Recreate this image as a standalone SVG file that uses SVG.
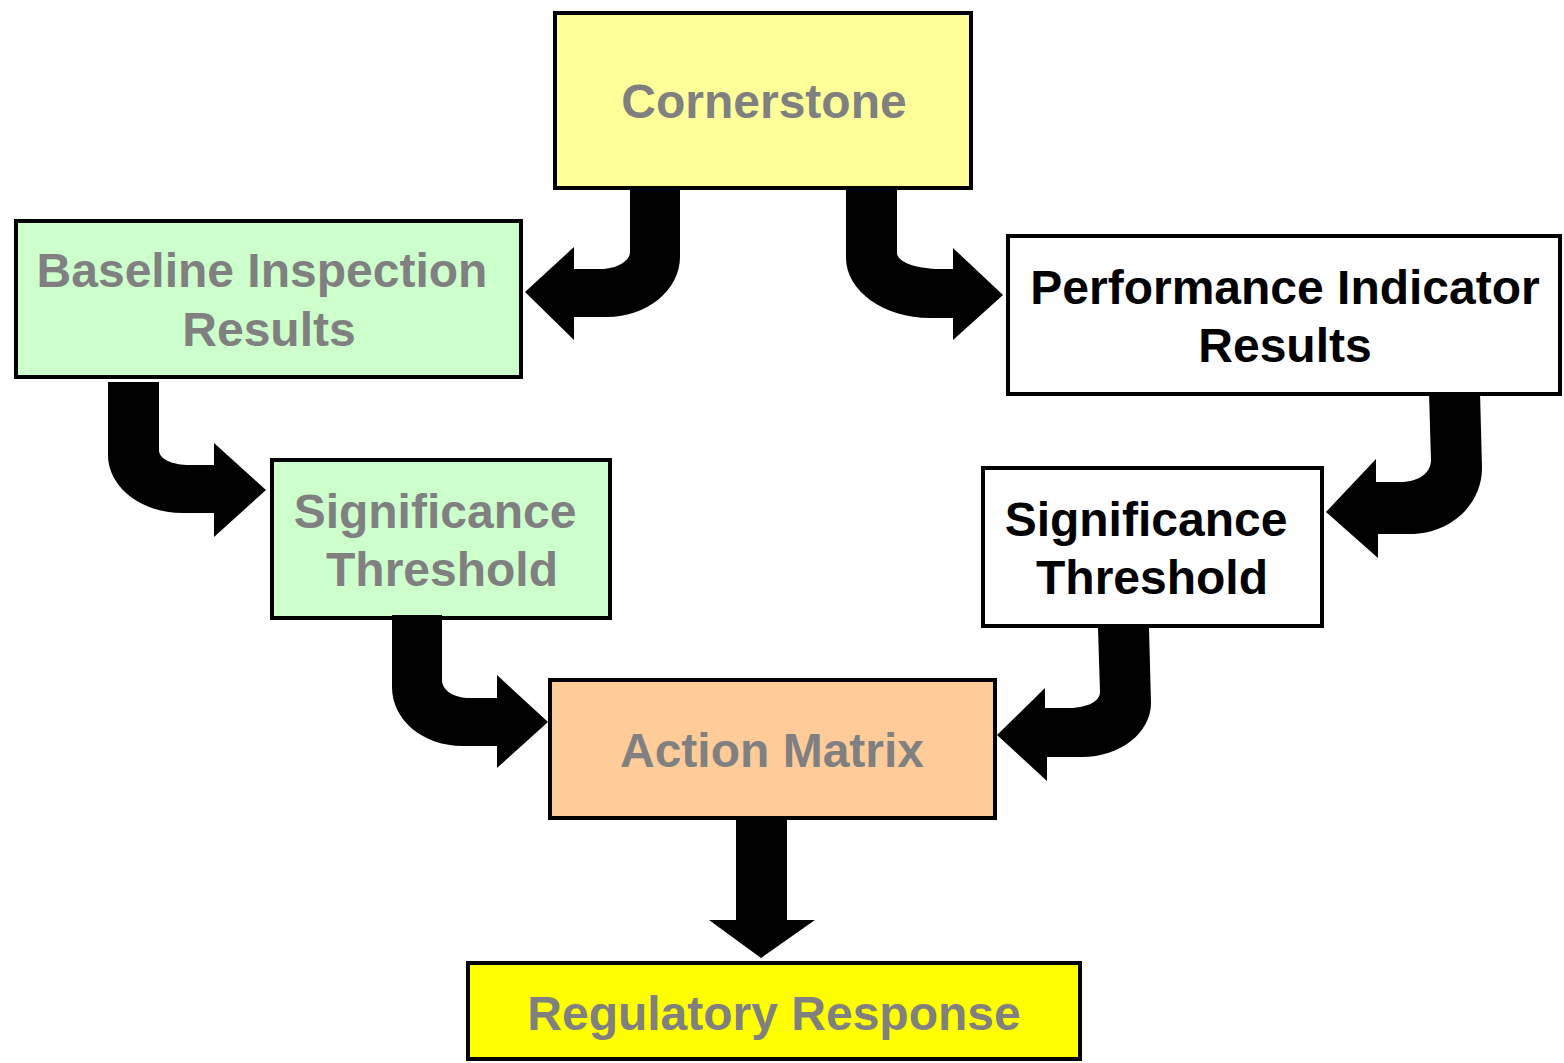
<svg xmlns="http://www.w3.org/2000/svg" width="1564" height="1063" viewBox="0 0 1564 1063">
<style>
.box{stroke:#000;stroke-width:4}
.t{font-family:"Liberation Sans",Arial,sans-serif;font-weight:bold;font-size:48px;text-anchor:middle}
.g{fill:#808080}
.k{fill:#000}
.arr{fill:#000;stroke:none}
</style>
<rect width="1564" height="1063" fill="#fff"/>
<g id="cornerstone">
<rect class="box" x="555" y="13" width="416" height="175" fill="#FFFF99"/>
<text class="t g" x="764" y="118">Cornerstone</text>
</g>
<g id="baseline">
<rect class="box" x="16" y="221" width="505" height="156" fill="#CCFFCC"/>
<text class="t g" x="262" y="287">Baseline Inspection</text>
<text class="t g" x="269" y="346">Results</text>
</g>
<g id="pi">
<rect class="box" x="1008" y="236" width="552" height="158" fill="#fff"/>
<text class="t k" x="1285" y="304">Performance Indicator</text>
<text class="t k" x="1285" y="362">Results</text>
</g>
<g id="sig-left">
<rect class="box" x="272" y="460" width="338" height="158" fill="#CCFFCC"/>
<text class="t g" x="435" y="528">Significance</text>
<text class="t g" x="442" y="586">Threshold</text>
</g>
<g id="sig-right">
<rect class="box" x="983" y="468" width="339" height="158" fill="#fff"/>
<text class="t k" x="1146" y="536">Significance</text>
<text class="t k" x="1152" y="594">Threshold</text>
</g>
<g id="action">
<rect class="box" x="550" y="680" width="445" height="138" fill="#FFCC99"/>
<text class="t g" x="772" y="767">Action Matrix</text>
</g>
<g id="regulatory">
<rect class="box" x="468" y="963" width="612" height="96" fill="#FFFF00"/>
<text class="t g" x="774" y="1030">Regulatory Response</text>
</g>
<g id="connectors">
<path class="arr" d="M630,186 L680,186 L680,257 C680,290 647,317 607,317 L574,317 L574,340 L525,292 L574,247 L574,269 L600,269 C617,269 630,261 630,252 Z"/>
<path class="arr" d="M846,186 L897,186 L897,253 C897,262 917,269 940,269 L953,269 L953,248 L1003,295 L953,340 L953,318 L930,318 C884,318 846,291 846,258 Z"/>
<path class="arr" d="M108,382 L159,382 L159,450 C159,459 172,465 190,465 L214,465 L214,443 L266,490 L214,537 L214,513 L183,513 C141,513 108,487 108,455 Z"/>
<path class="arr" d="M392,615 L442,615 L442,680 C442,690 453,698 470,698 L497,698 L497,675 L548,722 L497,768 L497,746 L463,746 C423,746 392,720 392,687 Z"/>
<path class="arr" d="M1429,392 L1480,392 L1482,468 C1482,505 1450,534 1410,534 L1378,534 L1378,558 L1326,512 L1376,459 L1376,482 L1400,482 C1420,482 1431,472 1431,460 Z"/>
<path class="arr" d="M1098,628 L1149,628 L1151,703 C1151,733 1120,757 1082,757 L1047,757 L1047,781 L997,735 L1045,688 L1045,708 L1068,708 C1088,708 1100,701 1100,692 Z"/>
<path class="arr" d="M736,816 L787,816 L787,920 L815,920 L761,958 L709,920 L736,920 Z"/>
</g>
</svg>
